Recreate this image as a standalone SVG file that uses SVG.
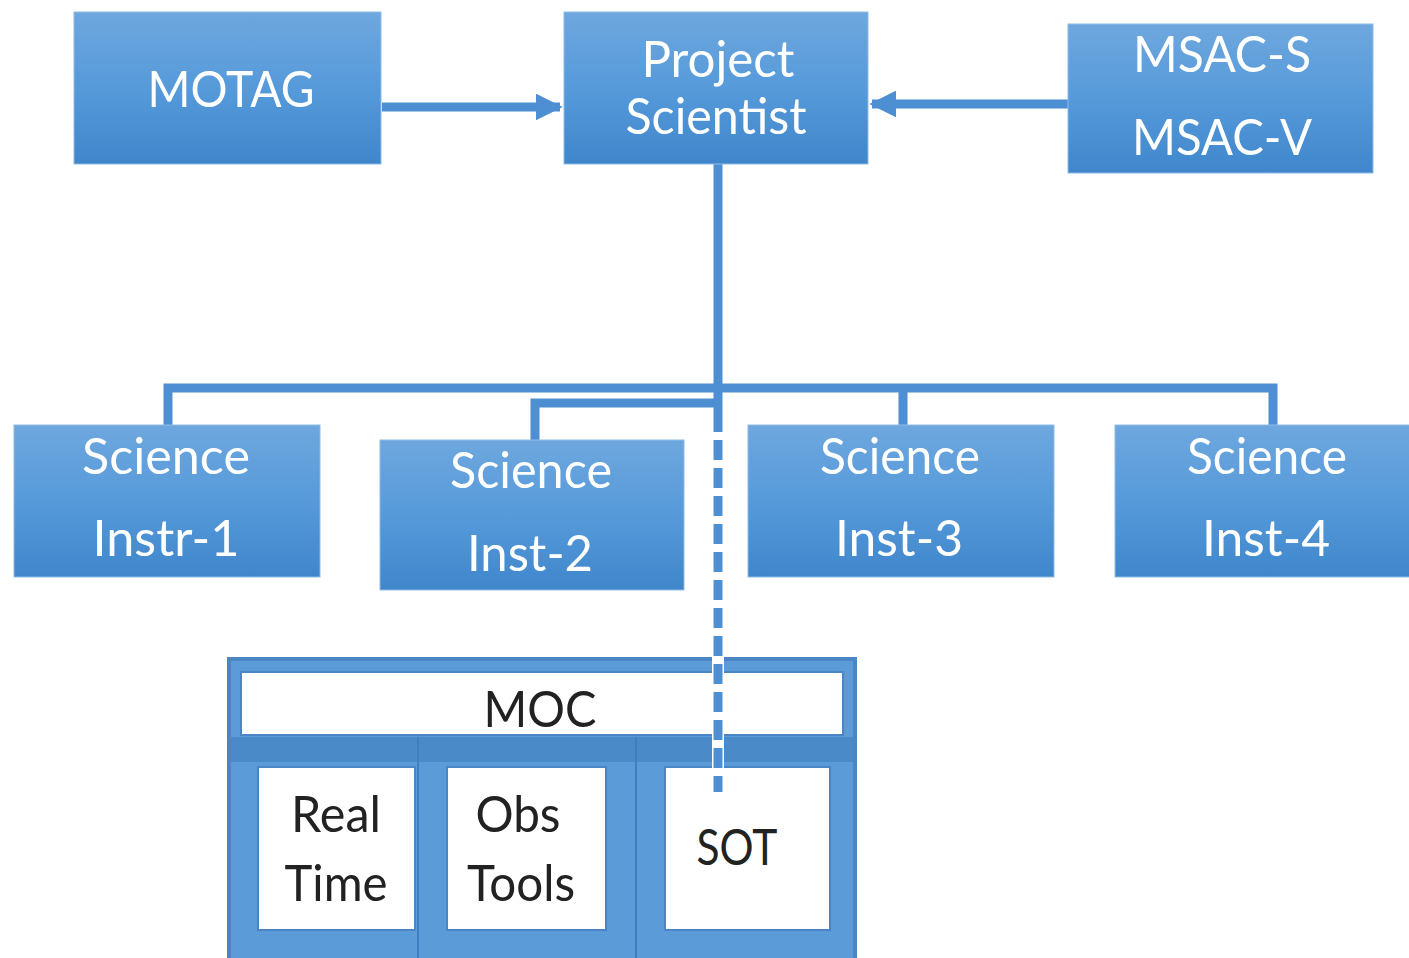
<svg xmlns="http://www.w3.org/2000/svg" width="1409" height="958" viewBox="0 0 1409 958">
<style>
.box{fill:url(#g);stroke:#8fbbe6;stroke-width:1}
.wt{font-family:Lato,"Open Sans","Liberation Sans",sans-serif;font-size:50px;fill:#ffffff;text-anchor:middle}
.dt{font-family:Lato,"Open Sans","Liberation Sans",sans-serif;font-size:50px;fill:#222222;text-anchor:middle}
.ln{stroke:#4d8fd2;stroke-width:9;fill:none}
.wb{fill:#ffffff;stroke:#4a86c5;stroke-width:2}
</style>
<defs>
<linearGradient id="g" x1="0" y1="0" x2="0" y2="1">
<stop offset="0" stop-color="#6ea7de"/>
<stop offset="0.5" stop-color="#569ada"/>
<stop offset="1" stop-color="#3f86cb"/>
</linearGradient>
<marker id="ah" viewBox="0 0 10 10" refX="9" refY="5" markerWidth="3" markerHeight="3" orient="auto" markerUnits="strokeWidth">
<path d="M0,0 L10,5 L0,10 z" fill="#4d8fd2"/>
</marker>
</defs>
<rect width="1409" height="958" fill="#ffffff"/>
<g id="connectors">
<line class="ln" x1="382" y1="107" x2="560" y2="107" marker-end="url(#ah)"/>
<line class="ln" x1="1068" y1="104" x2="872" y2="104" marker-end="url(#ah)"/>
<polyline class="ln" points="718,164 718,388"/>
<polyline class="ln" points="168,425 168,388 1273,388 1273,425"/>
<line class="ln" x1="903" y1="388" x2="903" y2="425"/>
<polyline class="ln" points="535,440 535,403 718,403"/>
<line class="ln" x1="718" y1="388" x2="718" y2="412"/>
</g>
<g id="motag"><rect class="box" x="74" y="12" width="307" height="152"/><text class="wt" x="231" y="107" textLength="167" lengthAdjust="spacingAndGlyphs">MOTAG</text></g>
<g id="project-scientist"><rect class="box" x="564" y="12" width="304" height="152"/><text class="wt" x="718" y="77" textLength="153" lengthAdjust="spacingAndGlyphs">Project</text><text class="wt" x="716" y="134" textLength="181" lengthAdjust="spacingAndGlyphs">Scientist</text></g>
<g id="msac"><rect class="box" x="1068" y="24" width="305" height="149"/><text class="wt" x="1222" y="72" textLength="178" lengthAdjust="spacingAndGlyphs">MSAC-S</text><text class="wt" x="1222" y="155" textLength="180" lengthAdjust="spacingAndGlyphs">MSAC-V</text></g>
<g id="inst1"><rect class="box" x="14" y="425" width="306" height="152"/><text class="wt" x="166" y="474" textLength="168" lengthAdjust="spacingAndGlyphs">Science</text><text class="wt" x="166" y="556" textLength="147" lengthAdjust="spacingAndGlyphs">Instr-1</text></g>
<g id="inst2"><rect class="box" x="380" y="440" width="304" height="150"/><text class="wt" x="531" y="488" textLength="162" lengthAdjust="spacingAndGlyphs">Science</text><text class="wt" x="530" y="571" textLength="126" lengthAdjust="spacingAndGlyphs">Inst-2</text></g>
<g id="inst3"><rect class="box" x="748" y="425" width="306" height="152"/><text class="wt" x="900" y="474" textLength="160" lengthAdjust="spacingAndGlyphs">Science</text><text class="wt" x="899" y="556" textLength="128" lengthAdjust="spacingAndGlyphs">Inst-3</text></g>
<g id="inst4"><rect class="box" x="1115" y="425" width="310" height="152"/><text class="wt" x="1267" y="474" textLength="160" lengthAdjust="spacingAndGlyphs">Science</text><text class="wt" x="1266" y="556" textLength="128" lengthAdjust="spacingAndGlyphs">Inst-4</text></g>
<g id="moc">
<rect x="229" y="659" width="626" height="310" fill="#5a9bd8" stroke="#4a86c5" stroke-width="4"/>
<rect x="231" y="737" width="622" height="25" fill="#4a8ac9"/>
<line x1="418" y1="737" x2="418" y2="958" stroke="#3f7fbf" stroke-width="2"/>
<line x1="636" y1="737" x2="636" y2="958" stroke="#3f7fbf" stroke-width="2"/>
<rect class="wb" x="241" y="672" width="602" height="63"/>
<text class="dt" x="540" y="727" textLength="113" lengthAdjust="spacingAndGlyphs">MOC</text>
</g>
<g id="real-time"><rect class="wb" x="258" y="767" width="157" height="163"/><text class="dt" x="336" y="832" textLength="90" lengthAdjust="spacingAndGlyphs">Real</text><text class="dt" x="336" y="901" textLength="103" lengthAdjust="spacingAndGlyphs">Time</text></g>
<g id="obs-tools"><rect class="wb" x="447" y="767" width="159" height="163"/><text class="dt" x="518" y="832" textLength="85" lengthAdjust="spacingAndGlyphs">Obs</text><text class="dt" x="521" y="901" textLength="108" lengthAdjust="spacingAndGlyphs">Tools</text></g>
<g id="sot"><rect class="wb" x="665" y="767" width="165" height="163"/><text class="dt" x="737" y="865" textLength="81" lengthAdjust="spacingAndGlyphs">SOT</text></g>
<g id="dashed-connector">
<line x1="718" y1="412" x2="718" y2="792" stroke="#ffffff" stroke-width="12"/>
<line x1="718" y1="412" x2="718" y2="792" stroke="#4d8fd2" stroke-width="9" stroke-dasharray="20,8"/>
</g>
</svg>
